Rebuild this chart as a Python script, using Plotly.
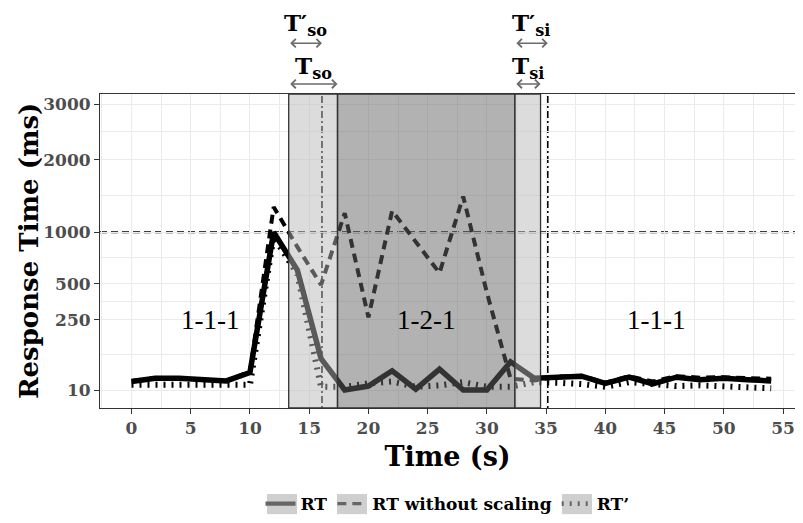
import numpy as np
import plotly.graph_objects as go

# ---------------- data ----------------
time_s = list(range(0, 56, 2))
rt = [22, 28, 28, 25, 23, 40, 1000, 616, 78, 10, 15, 44, 11, 48, 10, 10, 68, 28,
      30, 32, 19, 30, 18, 30, 25, 28, 25, 23]
rt_no_scaling = [23, 28, 28, 26, 23, 42, 1310, 840, 490, 1230, 265, 1260, 900, 590,
                 1450, 430, 27, 24, 31, 33, 20, 32, 22, 32, 29, 30, 28, 27]
rt_prime = [17, 17, 17, 16, 16, 17, 950, 580, 14, 14, 19, 22, 14, 16, 21, 14, 14, 21,
            20, 18, 14, 21, 18, 15, 16, 14, 14, 12]

series_names = ["RT", "RT without scaling", "RT\u2019"]

# phase boundaries (s)
scale_out_start = 13.27
scale_out_end = 17.39
scale_out_end_prime = 16.08
scale_in_start = 32.36
scale_in_end = 34.53
scale_in_end_prime = 35.14
threshold_ms = 1000

phase_labels = ["1-1-1", "1-2-1", "1-1-1"]
phase_label_level = 250

x_ticks = list(range(0, 56, 5))
y_ticks = [10, 250, 500, 1000, 2000, 3000]

# ---------------- helpers ----------------
sq = np.sqrt
FONT = "DejaVu Serif"
TICK_GREY = "#4d4d4d"
y_major = sq(np.array(y_ticks, dtype=float))
y_minor = (y_major[:-1] + y_major[1:]) / 2

fig = go.Figure()

styles = [
    dict(width=5.5, dash="solid"),
    dict(width=4, dash="9px,6px"),
    dict(width=6, dash="2px,6px"),
]
data = [rt, rt_no_scaling, rt_prime]
# draw order: dotted, dashed, solid
for idx in [2, 1, 0]:
    fig.add_trace(go.Scatter(
        x=time_s, y=sq(np.array(data[idx], dtype=float)), mode="lines",
        line=dict(color="black", width=styles[idx]["width"], dash=styles[idx]["dash"]),
        showlegend=False, hoverinfo="skip"))

# legend-only entries (grey keys as in reference)
for idx in [0, 1, 2]:
    fig.add_trace(go.Scatter(
        x=[None], y=[None], mode="lines", name=series_names[idx],
        line=dict(color="#666666", width=styles[idx]["width"] * 0.8, dash=styles[idx]["dash"])))

shapes = []
# threshold + prime end lines (under overlay)
shapes.append(dict(type="line", xref="paper", yref="y", x0=0, x1=1,
                   y0=sq(threshold_ms), y1=sq(threshold_ms),
                   line=dict(color="black", width=2, dash="7px,4px"), layer="between"))
for xv in [scale_out_end_prime, scale_in_end_prime]:
    shapes.append(dict(type="line", xref="x", yref="paper", x0=xv, x1=xv, y0=0, y1=1,
                       line=dict(color="black", width=1.6, dash="2px,3px,7px,3px"),
                       layer="between"))
# shaded phases (semi-transparent overlays on top)
for x0, x1, fill in [(scale_out_start, scale_out_end, "rgba(184,184,184,0.49)"),
                     (scale_out_end, scale_in_start, "rgba(102,102,102,0.50)"),
                     (scale_in_start, scale_in_end, "rgba(184,184,184,0.49)")]:
    shapes.append(dict(type="rect", xref="x", yref="paper", x0=x0, x1=x1, y0=0, y1=1,
                       fillcolor=fill, line=dict(color="#333333", width=1.3), layer="above"))
# grey legend-key backgrounds
for cx in [0.2619, 0.3626, 0.6863]:
    shapes.append(dict(type="rect", xref="paper", yref="paper",
                       x0=cx - 0.0216, x1=cx + 0.0216, y0=-0.338, y1=-0.274,
                       fillcolor="#cfcfcf", line=dict(width=0), layer="above"))

annotations = []
# phase labels centred on phase spans
mids = [(time_s[0] + scale_out_start) / 2,
        (scale_out_end + scale_in_start) / 2,
        (scale_in_end + time_s[-1]) / 2]
for lab, xm in zip(phase_labels, mids):
    annotations.append(dict(x=xm, y=sq(phase_label_level), xref="x", yref="y",
                            text=lab, showarrow=False,
                            font=dict(family="Liberation Serif", size=27, color="black")))

# arrows + T labels above the panel
ARROW_Y = {"T": 1.032, "Tp": 1.162}
LABEL_Y = {"T": 1.085, "Tp": 1.222}
arrow_defs = [
    (scale_out_start, scale_out_end, "T", "T<sub>so</sub>"),
    (scale_out_start, scale_out_end_prime, "Tp", "T\u2032<sub>so</sub>"),
    (scale_in_start, scale_in_end, "T", "T<sub>si</sub>"),
    (scale_in_start, scale_in_end_prime, "Tp", "T\u2032<sub>si</sub>"),
]
for a, b, kind, label in arrow_defs:
    annotations.append(dict(x=b, y=ARROW_Y[kind], xref="x", yref="paper",
                            ax=a, ay=0, axref="x", ayref="pixel",
                            text="", showarrow=True, arrowside="end+start",
                            arrowhead=4, arrowsize=1.1, arrowwidth=1.5,
                            arrowcolor="#6b6b6b", standoff=0, startstandoff=0))
    annotations.append(dict(x=(a + b) / 2, y=LABEL_Y[kind], xref="x", yref="paper",
                            text=label, showarrow=False, yanchor="middle",
                            font=dict(family=FONT, size=23, color="black", weight="bold")))

# y-axis title placed as rotated text
annotations.append(dict(x=-0.102, y=0.5, xref="paper", yref="paper",
                        text="Response Time (ms)", textangle=-90, showarrow=False,
                        xanchor="center", yanchor="middle",
                        font=dict(family=FONT, size=26, color="black", weight="bold")))

fig.update_layout(
    width=787, height=507,
    margin=dict(l=92, r=0, t=86, b=107, autoexpand=False),
    paper_bgcolor="white", plot_bgcolor="white",
    shapes=shapes, annotations=annotations,
    showlegend=True,
    legend=dict(orientation="h", x=0.5, xanchor="center", y=-0.306, yanchor="middle",
                font=dict(family=FONT, size=17, color="black", weight="bold"),
                itemwidth=30, bgcolor="rgba(0,0,0,0)"),
    xaxis=dict(range=[-2.659, 56.01], tickmode="array", tickvals=x_ticks,
               automargin=False,
               ticks="outside", ticklen=5, tickwidth=1, tickcolor="#333333",
               showline=True, linecolor="#333333", linewidth=1, mirror=True,
               showgrid=True, gridcolor="#ebebeb", gridwidth=1.1, zeroline=False,
               minor=dict(dtick=2.5, tick0=0, showgrid=True, gridcolor="#ebebeb",
                          gridwidth=0.55, ticks=""),
               tickfont=dict(family=FONT, size=17, color=TICK_GREY, weight="bold"),
               title=dict(text="Time (s)", standoff=9,
                          font=dict(family=FONT, size=27, color="black", weight="bold"))),
    yaxis=dict(range=[-0.086, 56.577], tickmode="array", tickvals=list(y_major),
               ticktext=[str(v) for v in y_ticks], automargin=False,
               ticks="outside", ticklen=5, tickwidth=1, tickcolor="#333333",
               showline=True, linecolor="#333333", linewidth=1, mirror=False,
               showgrid=True, gridcolor="#ebebeb", gridwidth=1.1, zeroline=False,
               minor=dict(tickvals=list(y_minor), showgrid=True, gridcolor="#ebebeb",
                          gridwidth=0.55, ticks=""),
               tickfont=dict(family=FONT, size=17, color=TICK_GREY, weight="bold")),
)

fig.write_html("out.html")
